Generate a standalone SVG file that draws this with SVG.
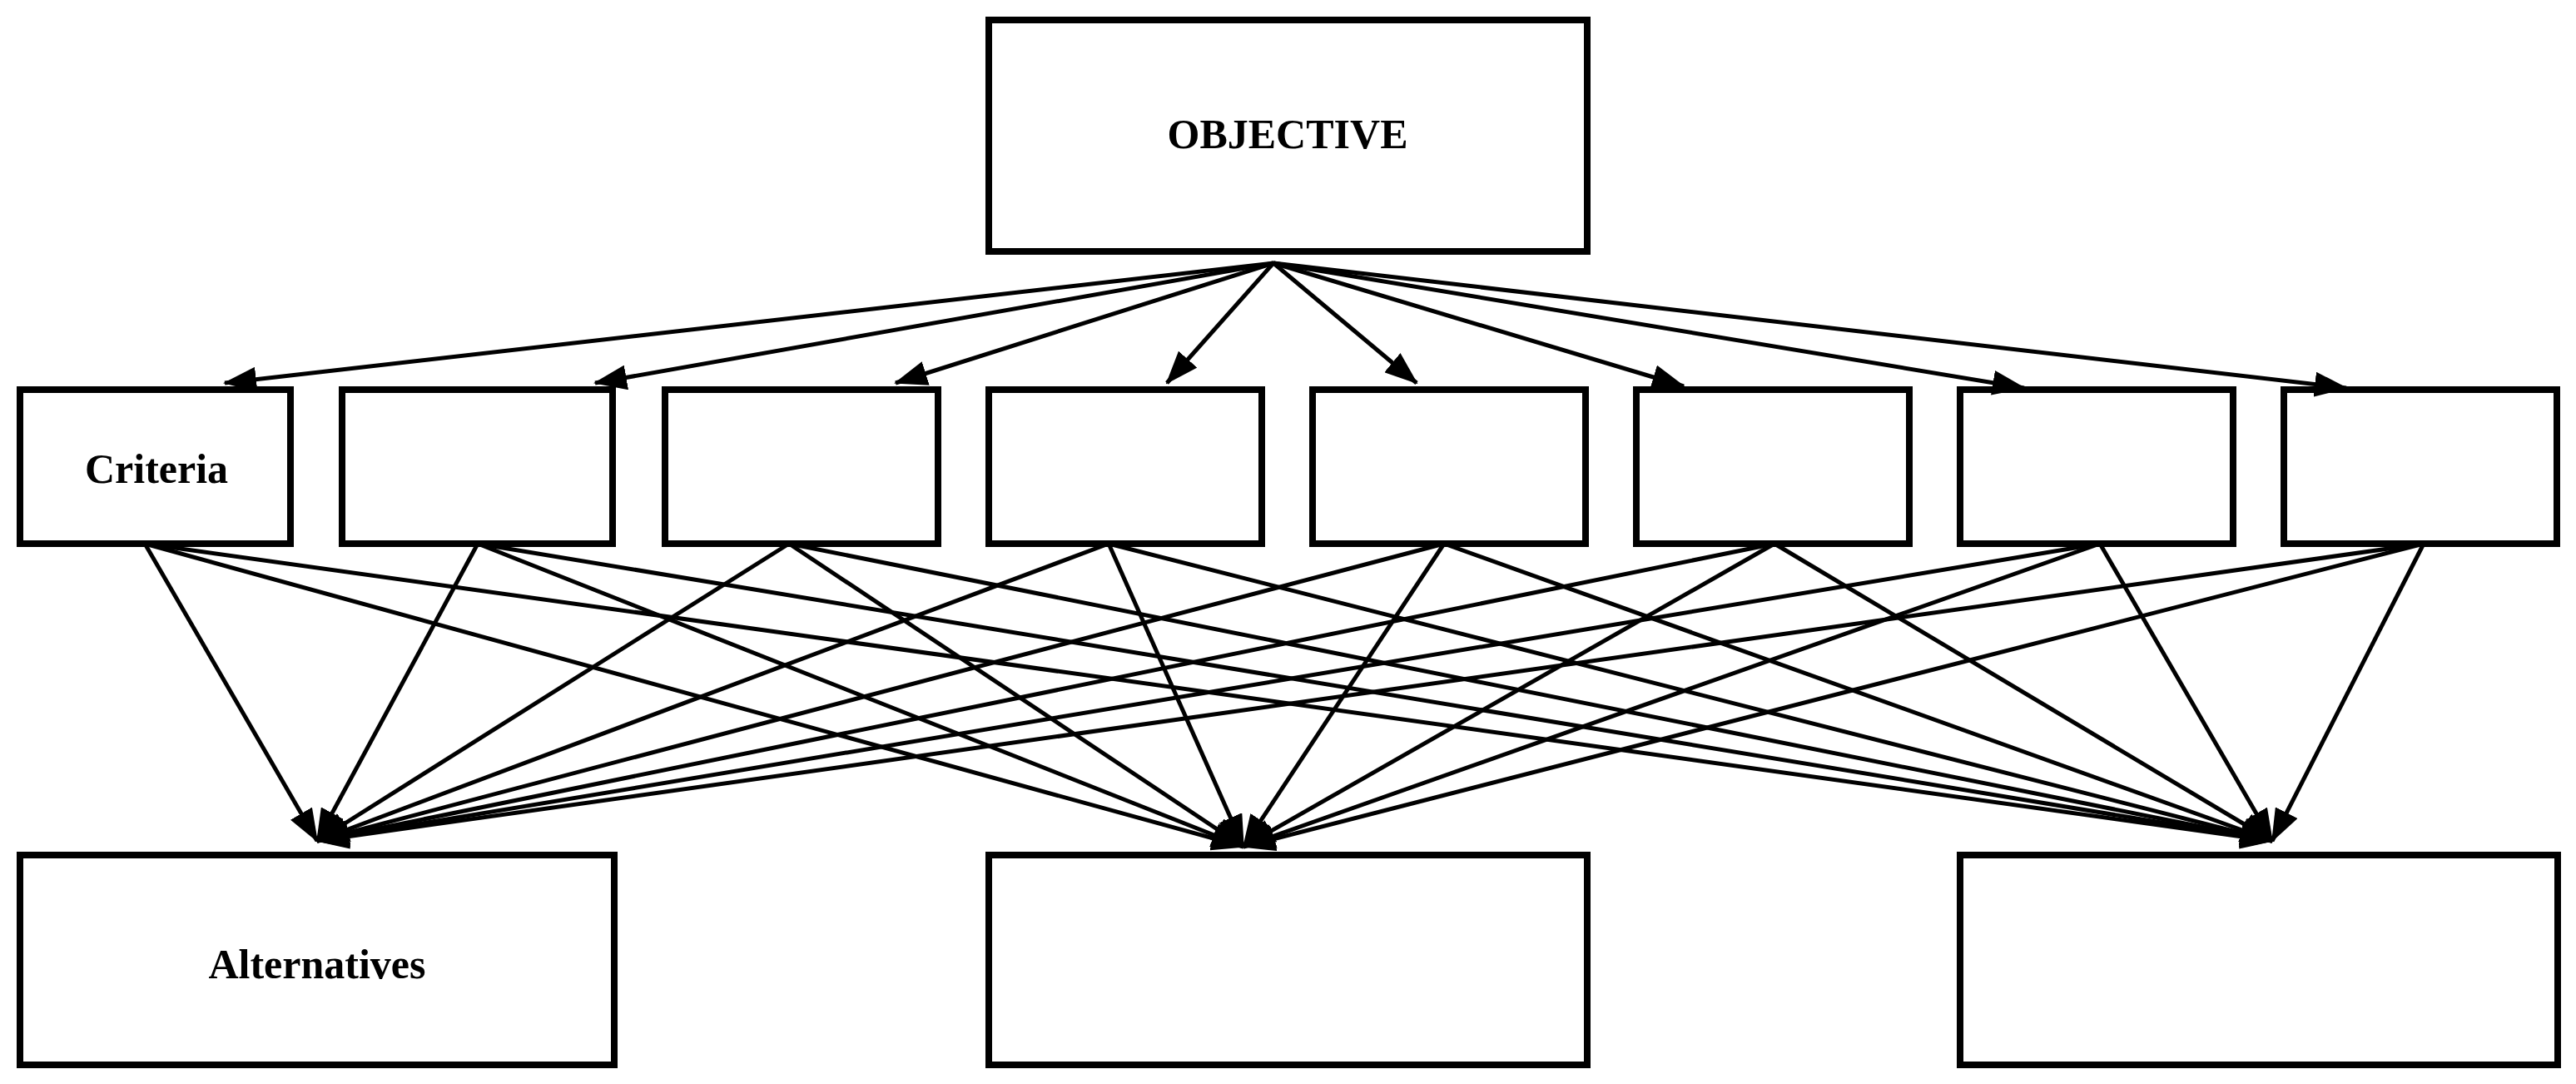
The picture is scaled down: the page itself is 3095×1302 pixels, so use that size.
<svg xmlns="http://www.w3.org/2000/svg" width="3095" height="1302" viewBox="0 0 3095 1302">
<style>
.b{fill:#fff;stroke:#000;stroke-width:8}
.t{font-family:"Liberation Serif",serif;font-weight:bold;font-size:50px;text-anchor:middle}
.c line{stroke:#000;stroke-width:5;marker-end:url(#a)}
</style>
<defs><marker id="a" markerUnits="userSpaceOnUse" markerWidth="40" markerHeight="30" refX="38" refY="15" orient="auto"><path d="M0,0L40,15L0,30z"/></marker></defs>
<rect width="3095" height="1302" fill="#fff"/>
<g id="objective"><rect class="b" x="1188" y="24" width="719" height="278"/><text class="t" x="1547" y="178">OBJECTIVE</text></g>
<g id="c1"><rect class="b" x="24" y="468" width="325" height="185"/><text class="t" x="188" y="580">Criteria</text></g>
<g id="c2"><rect class="b" x="411" y="468" width="325" height="185"/></g>
<g id="c3"><rect class="b" x="799" y="468" width="328" height="185"/></g>
<g id="c4"><rect class="b" x="1188" y="468" width="328" height="185"/></g>
<g id="c5"><rect class="b" x="1577" y="468" width="328" height="185"/></g>
<g id="c6"><rect class="b" x="1966" y="468" width="328" height="185"/></g>
<g id="c7"><rect class="b" x="2355" y="468" width="328" height="185"/></g>
<g id="c8"><rect class="b" x="2744" y="468" width="328" height="185"/></g>
<g id="a1"><rect class="b" x="24" y="1027" width="714" height="252"/><text class="t" x="381" y="1175">Alternatives</text></g>
<g id="a2"><rect class="b" x="1188" y="1027" width="719" height="252"/></g>
<g id="a3"><rect class="b" x="2355" y="1027" width="718" height="252"/></g>
<g class="c" id="connectors">
<line x1="1530" y1="316" x2="270" y2="460"/><line x1="1530" y1="316" x2="715" y2="460"/><line x1="1530" y1="316" x2="1076" y2="460"/><line x1="1530" y1="316" x2="1402" y2="460"/><line x1="1530" y1="316" x2="1702" y2="460"/><line x1="1530" y1="316" x2="2023" y2="464"/><line x1="1530" y1="316" x2="2432" y2="466"/><line x1="1530" y1="316" x2="2819" y2="466"/>
<line x1="174" y1="653" x2="381" y2="1010"/><line x1="174" y1="653" x2="1494" y2="1017"/><line x1="174" y1="653" x2="2730" y2="1010"/>
<line x1="574" y1="653" x2="381" y2="1010"/><line x1="574" y1="653" x2="1494" y2="1017"/><line x1="574" y1="653" x2="2730" y2="1010"/>
<line x1="948" y1="653" x2="381" y2="1010"/><line x1="948" y1="653" x2="1494" y2="1017"/><line x1="948" y1="653" x2="2730" y2="1010"/>
<line x1="1332" y1="653" x2="381" y2="1010"/><line x1="1332" y1="653" x2="1494" y2="1017"/><line x1="1332" y1="653" x2="2730" y2="1010"/>
<line x1="1735" y1="653" x2="381" y2="1010"/><line x1="1735" y1="653" x2="1494" y2="1017"/><line x1="1735" y1="653" x2="2730" y2="1010"/>
<line x1="2132" y1="653" x2="381" y2="1010"/><line x1="2132" y1="653" x2="1494" y2="1017"/><line x1="2132" y1="653" x2="2730" y2="1010"/>
<line x1="2523" y1="653" x2="381" y2="1010"/><line x1="2523" y1="653" x2="1494" y2="1017"/><line x1="2523" y1="653" x2="2730" y2="1010"/>
<line x1="2912" y1="653" x2="381" y2="1010"/><line x1="2912" y1="653" x2="1494" y2="1017"/><line x1="2912" y1="653" x2="2730" y2="1010"/>
</g>
</svg>
